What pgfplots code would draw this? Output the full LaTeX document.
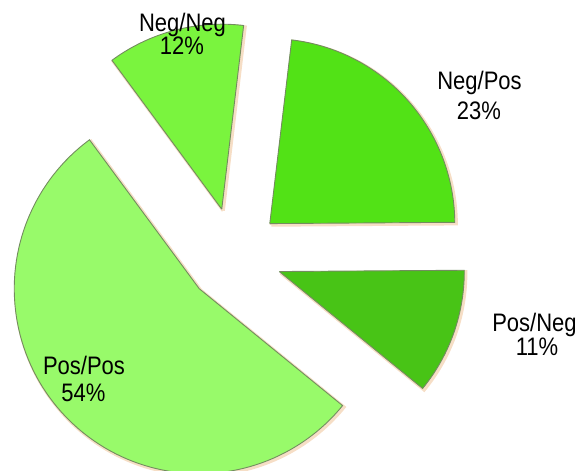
\documentclass[border=0pt]{standalone}
\usepackage{fontspec}
\setmainfont{Liberation Sans}
\usepackage{pgfplots}
\pgfplotsset{compat=1.18}
\definecolor{cNN}{RGB}{122,244,62}
\definecolor{cNP}{RGB}{82,226,22}
\definecolor{cPN}{RGB}{72,196,22}
\definecolor{cPP}{RGB}{152,250,106}
\definecolor{edgec}{RGB}{115,140,95}
\definecolor{glow}{RGB}{240,200,160}

% start angle, value (percent), colour
\newcommand{\pieslice}[3]{%
  \pgfmathsetmacro{\sa}{#1}%
  \pgfmathsetmacro{\ea}{#1-3.6*#2}%
  \pgfmathsetmacro{\ma}{(\sa+\ea)/2}%
  \pgfmathsetmacro{\ax}{234+48*cos(\ma)}%
  \pgfmathsetmacro{\ay}{214.4+48*sin(\ma)}%
  \addplot[draw=glow, line width=1.6pt, opacity=0.6, samples at={-1,0,0.01,...,0.99,1,2}]
    ({\ax+1.5+ifthenelse(x<-0.5,0,ifthenelse(x>1.5,0,185))*cos(\sa+x*(\ea-\sa))},
     {\ay-1.5+ifthenelse(x<-0.5,0,ifthenelse(x>1.5,0,185))*sin(\sa+x*(\ea-\sa))});
  \addplot[fill=#3, draw=edgec, line width=0.45pt, samples at={-1,0,0.01,...,0.99,1,2}]
    ({\ax+ifthenelse(x<-0.5,0,ifthenelse(x>1.5,0,185))*cos(\sa+x*(\ea-\sa))},
     {\ay+ifthenelse(x<-0.5,0,ifthenelse(x>1.5,0,185))*sin(\sa+x*(\ea-\sa))});
}
\newcommand{\lbl}[1]{\scalebox{1}[1.15]{#1}}

\begin{document}
\begin{tikzpicture}
\begin{axis}[width=291pt, height=235pt, scale only axis,
  xmin=0, xmax=582, ymin=0, ymax=470, hide axis, clip mode=individual]
\addplot[draw=none] coordinates {(0,0) (582,470)};
% slices clockwise from 126.4 degrees: Neg/Neg 12, Neg/Pos 23, Pos/Neg 11, Pos/Pos 54
\pieslice{126.4}{12}{cNN}
\pieslice{83.2}{23}{cNP}
\pieslice{0.4}{11}{cPN}
\pieslice{-39.2}{54}{cPP}
\begin{scope}[every node/.style={anchor=base, inner sep=0pt, font=\fontsize{11}{13}\selectfont, text=black}]
\node at (axis cs:182.5,438) {\lbl{Neg/Neg}};
\node at (axis cs:182,415) {\lbl{12\%}};
\node at (axis cs:479.5,380) {\lbl{Neg/Pos}};
\node at (axis cs:479,350) {\lbl{23\%}};
\node at (axis cs:534.5,138.3) {\lbl{Pos/Neg}};
\node at (axis cs:537,115) {\lbl{11\%}};
\node at (axis cs:84,95) {\lbl{Pos/Pos}};
\node at (axis cs:83.5,68.5) {\lbl{54\%}};
\end{scope}
\end{axis}
\end{tikzpicture}
\end{document}
